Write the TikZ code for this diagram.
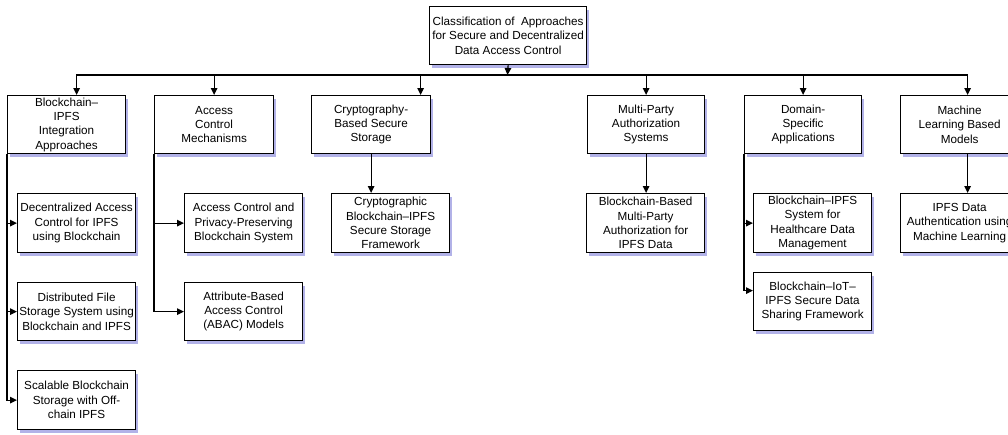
\documentclass[tikz,border=0pt]{standalone}
\usepackage{fontspec}
\setmainfont{Liberation Sans}
\usetikzlibrary{arrows.meta}
\begin{document}
\begin{tikzpicture}[x=1pt,y=-1pt,
  box/.style={draw=black,line width=1.2pt,fill=white,anchor=north west,inner sep=0pt,
    align=center,text=black,
    font=\fontsize{11.7}{14.3}\selectfont,
    preaction={draw=none,fill=black!30!blue!30!white,transform canvas={xshift=2.5pt,yshift=-3pt}}},
  arr/.style={line width=1.1pt,-{Triangle[length=7pt,width=6.5pt]}}]
\clip (0,0) rectangle (1008,434);
\fill[white] (0,0) rectangle (1008,434);
% top
\node[box,minimum width=157pt,minimum height=58pt] (top) at (429,6)
  {Classification of~ Approaches\\for Secure and Decentralized\\Data Access Control};
% level 1
\node[box,minimum width=118pt,minimum height=58pt] (b1) at (7,95) {Blockchain–\\IPFS\\Integration\\Approaches};
\node[box,minimum width=119pt,minimum height=58pt] (b2) at (154,95) {Access\\Control\\Mechanisms};
\node[box,minimum width=119pt,minimum height=58pt] (b3) at (311,95) {Cryptography-\\Based Secure\\Storage};
\node[box,minimum width=117pt,minimum height=58pt] (b4) at (587,95) {Multi-Party\\Authorization\\Systems};
\node[box,minimum width=117pt,minimum height=58pt] (b5) at (744,95) {Domain-\\Specific\\Applications};
\node[box,minimum width=118pt,minimum height=58pt] (b6) at (900,95) {Machine\\Learning Based\\Models};
% level 2
\node[box,minimum width=118pt,minimum height=59pt] (c11) at (17,193) {Decentralized Access\\Control for IPFS\\using Blockchain};
\node[box,minimum width=118pt,minimum height=58pt] (c12) at (17,282) {Distributed File\\Storage System using\\Blockchain and IPFS};
\node[box,minimum width=118pt,minimum height=59pt] (c13) at (17,370) {Scalable Blockchain\\Storage with Off-\\chain IPFS};
\node[box,minimum width=118pt,minimum height=59pt] (c21) at (184,193) {Access Control and\\Privacy-Preserving\\Blockchain System};
\node[box,minimum width=118pt,minimum height=58pt] (c22) at (184,282) {Attribute-Based\\Access Control\\(ABAC) Models};
\node[box,minimum width=118pt,minimum height=59pt] (c3) at (331,193) {Cryptographic\\Blockchain–IPFS\\Secure Storage\\Framework};
\node[box,minimum width=118pt,minimum height=59pt] (c4) at (586,193) {Blockchain-Based\\Multi-Party\\Authorization for\\IPFS Data};
\node[box,minimum width=118pt,minimum height=59pt] (c51) at (753,193) {Blockchain–IPFS\\System for\\Healthcare Data\\Management};
\node[box,minimum width=118pt,minimum height=58pt] (c52) at (753,272) {Blockchain–IoT–\\IPFS Secure Data\\Sharing Framework};
\node[box,minimum width=118pt,minimum height=59pt] (c6) at (900,193) {IPFS Data\\Authentication using\\Machine Learning};
% bus
\coordinate (bus) at (507.5,75);
\draw[arr] (top.south) -- (bus);
\draw[arr] (bus) -| ([xshift=10pt]b1.north);
\draw[arr] (bus) -| (b2.north);
\draw[arr] (bus) -| ([xshift=49.5pt]b3.north);
\draw[arr] (bus) -| (b4.north);
\draw[arr] (bus) -| (b5.north);
\draw[arr] (bus) -| ([xshift=8pt]b6.north);
% level 2 connectors
\draw[arr] (b1.south west) |- (c11.west);
\draw[arr] (b1.south west) |- (c12.west);
\draw[arr] (b1.south west) |- (c13.west);
\draw[arr] (b2.south west) |- (c21.west);
\draw[arr] (b2.south west) |- (c22.west);
\draw[arr] (b3.south) -- (b3.south |- c3.north);
\draw[arr] (b4.south) -- (b4.south |- c4.north);
\draw[arr] (b5.south west) |- (c51.west);
\draw[arr] (b5.south west) |- ([yshift=11pt]c52.west);
\draw[arr] ([xshift=8pt]b6.south) -- ([xshift=8pt]b6.south |- c6.north);
\end{tikzpicture}
\end{document}
